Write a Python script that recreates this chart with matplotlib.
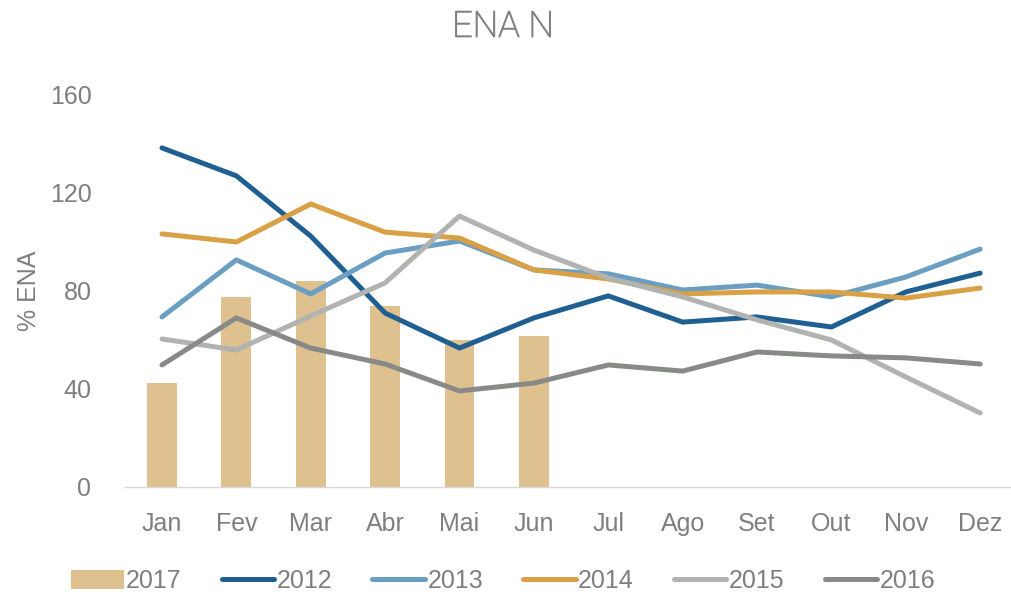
import matplotlib.pyplot as plt
import matplotlib.patheffects as pe
import numpy as np

meses = ['Jan', 'Fev', 'Mar', 'Abr', 'Mai', 'Jun', 'Jul', 'Ago', 'Set', 'Out', 'Nov', 'Dez']

ena_2017 = [42.4, 77.6, 84.0, 73.9, 60.0, 61.6]
ena_2012 = [138.4, 127.0, 102.4, 71.0, 56.7, 69.0, 78.0, 67.3, 69.4, 65.3, 79.6, 87.3]
ena_2013 = [69.4, 92.7, 78.8, 95.5, 100.4, 88.6, 87.0, 80.4, 82.4, 77.6, 85.7, 97.1]
ena_2014 = [103.3, 100.0, 115.5, 104.0, 101.6, 88.6, 84.9, 78.8, 79.6, 79.6, 77.1, 81.2]
ena_2015 = [60.4, 55.9, 69.8, 83.3, 110.6, 96.7, 85.3, 77.6, 68.2, 60.0, 44.9, 30.2]
ena_2016 = [49.8, 69.0, 56.7, 50.2, 39.2, 42.4, 49.8, 47.3, 55.1, 53.5, 52.7, 50.2]

cinza = '#7f7f7f'
plt.rcParams['font.family'] = ['Liberation Sans', 'DejaVu Sans']

fig = plt.figure(figsize=(10.12, 5.97), dpi=100)
ax = fig.add_axes([0.1233, 0.1843, 0.882, 0.6566])

x = np.arange(len(meses))
ax.bar(x[:len(ena_2017)], ena_2017, width=0.4, color='#dfc190', label='2017', zorder=1)
ax.plot(x, ena_2012, color='#1f5f91', lw=3.6, label='2012', solid_capstyle='round', zorder=2)
ax.plot(x, ena_2013, color='#6a9ec2', lw=3.6, label='2013', solid_capstyle='round', zorder=2)
ax.plot(x, ena_2014, color='#d9a045', lw=3.6, label='2014', solid_capstyle='round', zorder=2)
ax.plot(x, ena_2015, color='#b0b3b0', lw=3.6, label='2015', solid_capstyle='round', zorder=2)
ax.plot(x, ena_2016, color='#888a88', lw=3.6, label='2016', solid_capstyle='round', zorder=2)

ax.set_xlim(-0.5, 11.5)
ax.set_ylim(0, 160)
ax.set_yticks([0, 40, 80, 120, 160])
ax.set_xticks(x)
ax.set_xticklabels(meses)
ax.tick_params(length=0, labelsize=18, labelcolor=cinza)
ax.tick_params(axis='x', pad=18)
ax.tick_params(axis='y', pad=24)
for s in ['top', 'right', 'left']:
    ax.spines[s].set_visible(False)
ax.spines['bottom'].set_color('#d9d9d9')
ax.spines['bottom'].set_linewidth(1)

ax.set_ylabel('% ENA', fontsize=18, color=cinza)
ax.yaxis.set_label_coords(-0.094, 0.5)

fig.text(0.497, 0.955, 'ENA N', ha='center', va='center', fontsize=26,
         color=cinza, family='Roboto', fontweight='light',
         path_effects=[pe.withStroke(linewidth=0.7, foreground=cinza)])

handles, labels = ax.get_legend_handles_labels()
ordem = [labels.index(l) for l in ['2017', '2012', '2013', '2014', '2015', '2016']]
leg = ax.legend([handles[i] for i in ordem], [labels[i] for i in ordem],
                loc='center', bbox_to_anchor=(0.424, -0.24), ncol=6, frameon=False,
                fontsize=18, handlelength=2.1, handleheight=0.8, handletextpad=0.1,
                columnspacing=1.6)
for t in leg.get_texts():
    t.set_color(cinza)

plt.savefig('out.png')
